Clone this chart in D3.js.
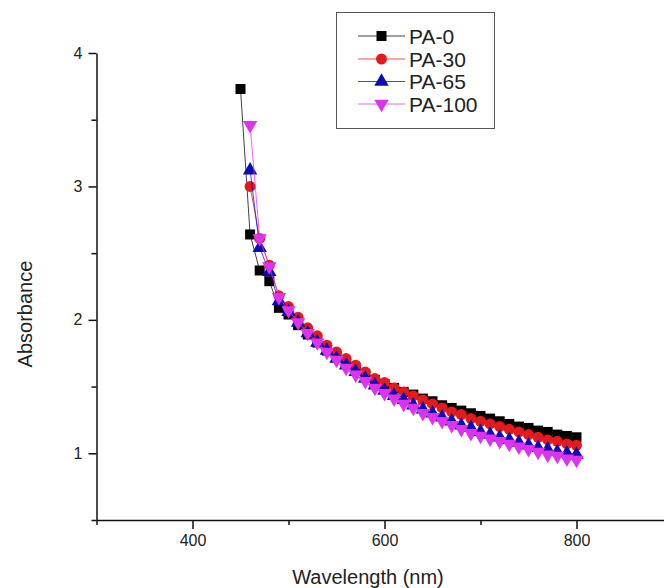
<!DOCTYPE html>
<html>
<head>
<meta charset="utf-8">
<script src="https://cdn.jsdelivr.net/npm/d3@7/dist/d3.min.js"></script>
<style>
  html, body { margin: 0; padding: 0; background: #fff; }
  svg { display: block; font-family: "Liberation Sans", Arial, sans-serif; }
</style>
</head>
<body>
<svg id="chart" width="664" height="588"></svg>
<script>
// ---- data ----
const seriesNames = ["PA-0", "PA-30", "PA-65", "PA-100"];
const wl0 = [450,460,470,480,490,500,510,520,530,540,550,560,570,580,590,600,610,620,630,640,650,660,670,680,690,700,710,720,730,740,750,760,770,780,790,800];
const wl = [460,470,480,490,500,510,520,530,540,550,560,570,580,590,600,610,620,630,640,650,660,670,680,690,700,710,720,730,740,750,760,770,780,790,800];
const pa0 = [3.73,2.64,2.37,2.29,2.09,2.04,1.96,1.89,1.83,1.77,1.72,1.67,1.63,1.59,1.55,1.52,1.49,1.46,1.44,1.41,1.39,1.36,1.34,1.32,1.30,1.28,1.26,1.24,1.22,1.20,1.19,1.17,1.16,1.14,1.13,1.12];
const pa30 = [3.00,2.61,2.41,2.18,2.10,2.02,1.94,1.88,1.81,1.76,1.71,1.66,1.61,1.56,1.53,1.49,1.46,1.43,1.40,1.37,1.34,1.31,1.29,1.26,1.24,1.22,1.20,1.18,1.16,1.14,1.12,1.10,1.09,1.07,1.06];
const pa65 = [3.12,2.54,2.36,2.14,2.06,1.98,1.90,1.83,1.77,1.71,1.66,1.61,1.56,1.51,1.47,1.43,1.40,1.36,1.33,1.30,1.27,1.24,1.21,1.19,1.16,1.14,1.12,1.10,1.08,1.06,1.04,1.03,1.01,1.00,0.99];
const pa100 = [3.46,2.61,2.40,2.17,2.07,1.98,1.90,1.83,1.76,1.70,1.64,1.59,1.54,1.49,1.45,1.41,1.37,1.34,1.30,1.27,1.24,1.21,1.18,1.15,1.13,1.11,1.09,1.07,1.05,1.03,1.01,0.99,0.98,0.96,0.95];
const xMajorTicks = [400, 600, 800];
const xMinorTicks = [300, 500, 700, 900];
const yMajorTicks = [1, 2, 3, 4];
const yMinorTicks = [0.5, 1.5, 2.5, 3.5];

// ---- styles ----
const colors = ["#000000", "#e41a1c", "#0c0cb4", "#dd33ee"];
const symbols = [d3.symbolSquare, d3.symbolCircle, d3.symbolTriangle, d3.symbolTriangle];
const symSizes = [100, 95, 90, 90];
const rotations = [0, 0, 0, 180];

const series = [
  { name: seriesNames[0], x: wl0, y: pa0 },
  { name: seriesNames[1], x: wl, y: pa30 },
  { name: seriesNames[2], x: wl, y: pa65 },
  { name: seriesNames[3], x: wl, y: pa100 }
];

const svg = d3.select("#chart");
const x = d3.scaleLinear().domain([300, 900]).range([96.5, 672.5]);
const y = d3.scaleLinear().domain([0.5, 4]).range([520, 53]);

// axes
const axisColor = "#111";
svg.append("g").attr("transform", "translate(0,520)")
  .call(d3.axisBottom(x).tickValues(xMajorTicks).tickSize(9).tickSizeOuter(0).tickPadding(6).tickFormat(d3.format("d")));
svg.append("g").attr("transform", "translate(0,520)")
  .call(d3.axisBottom(x).tickValues(xMinorTicks).tickSize(5).tickSizeOuter(0).tickFormat(""))
  .select(".domain").remove();
svg.append("g").attr("transform", "translate(96.5,0)")
  .call(d3.axisLeft(y).tickValues(yMajorTicks).tickSize(8).tickSizeOuter(0).tickPadding(6).tickFormat(d3.format("d")));
svg.append("g").attr("transform", "translate(96.5,0)")
  .call(d3.axisLeft(y).tickValues(yMinorTicks).tickSize(5).tickSizeOuter(0).tickFormat(""))
  .select(".domain").remove();

svg.selectAll(".domain").attr("stroke", axisColor).attr("stroke-width", 1.5);
svg.selectAll(".tick line").attr("stroke", axisColor).attr("stroke-width", 1.5);
svg.selectAll(".tick text").attr("fill", "#222").attr("font-size", 16)
  .attr("font-family", "Liberation Sans, Arial, sans-serif");

// axis titles
svg.append("text").attr("x", 368).attr("y", 584).attr("text-anchor", "middle")
  .attr("font-size", 20).attr("fill", "#222").text("Wavelength (nm)");
svg.append("text").attr("transform", "translate(32,314) rotate(-90)").attr("text-anchor", "middle")
  .attr("font-size", 20).attr("fill", "#222").text("Absorbance");

// series
const line = d3.line().x(d => x(d[0])).y(d => y(d[1]));
series.forEach((s, i) => {
  const pts = s.x.map((v, j) => [v, s.y[j]]);
  const g = svg.append("g");
  g.append("path").datum(pts).attr("d", line).attr("fill", "none")
    .attr("stroke", colors[i]).attr("stroke-width", 1).attr("stroke-opacity", 0.75);
  const sym = d3.symbol().type(symbols[i]).size(symSizes[i]);
  g.selectAll("path.m").data(pts).join("path").attr("class", "m")
    .attr("d", sym)
    .attr("transform", d => `translate(${x(d[0])},${y(d[1])}) rotate(${rotations[i]})`)
    .attr("fill", colors[i]);
});

// legend
const lg = svg.append("g");
lg.append("rect").attr("x", 336.5).attr("y", 12.5).attr("width", 158).attr("height", 116)
  .attr("fill", "#fff").attr("stroke", "#555").attr("stroke-width", 1);
const ly = [36, 59, 81.5, 104];
series.forEach((s, i) => {
  lg.append("line").attr("x1", 358).attr("x2", 405).attr("y1", ly[i]).attr("y2", ly[i])
    .attr("stroke", colors[i]).attr("stroke-width", 1).attr("stroke-opacity", 0.75);
  lg.append("path").attr("d", d3.symbol().type(symbols[i]).size(symSizes[i])())
    .attr("transform", `translate(381.5,${ly[i]}) rotate(${rotations[i]})`).attr("fill", colors[i]);
  lg.append("text").attr("x", 409).attr("y", ly[i]).attr("dy", "0.36em")
    .attr("font-size", 21).attr("fill", "#222").text(s.name);
});
</script>
</body>
</html>
